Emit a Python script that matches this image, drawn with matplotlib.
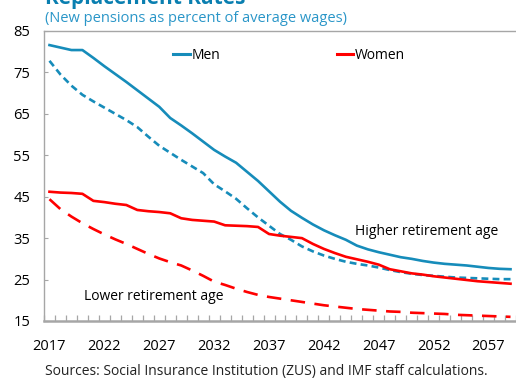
import numpy as np
import matplotlib
matplotlib.use("Agg")
import matplotlib.pyplot as plt
from matplotlib.lines import Line2D
from matplotlib.ticker import FixedLocator

plt.rcParams['font.family'] = ['Open Sans', 'DejaVu Sans']

years = list(range(2017, 2060))

men_higher = [81.6, 81.0, 80.4, 80.4, 78.5, 76.5, 74.6, 72.7, 70.7, 68.7,
              66.7, 64.0, 62.2, 60.3, 58.3, 56.3, 54.7, 53.2, 51.0, 48.8,
              46.3, 43.8, 41.6, 39.9, 38.3, 36.9, 35.7, 34.6, 33.2, 32.3,
              31.6, 31.0, 30.4, 30.0, 29.5, 29.1, 28.8, 28.6, 28.4, 28.1,
              27.8, 27.6, 27.5]
men_lower = [77.8, 74.5, 71.8, 69.6, 68.0, 66.5, 65.0, 63.5, 61.8, 59.5,
             57.3, 55.6, 53.9, 52.3, 50.7, 48.0, 46.3, 44.5, 42.2, 40.0,
             38.0, 36.0, 34.6, 33.0, 31.8, 30.8, 30.0, 29.3, 28.8, 28.4,
             27.9, 27.3, 26.8, 26.4, 26.1, 25.9, 25.7, 25.5, 25.4, 25.3,
             25.2, 25.1, 25.1]
women_higher = [46.2, 46.0, 45.9, 45.7, 44.0, 43.7, 43.3, 43.0, 41.8, 41.5,
                41.3, 41.0, 39.8, 39.4, 39.2, 39.0, 38.1, 38.0, 37.9, 37.7,
                36.0, 35.6, 35.3, 35.0, 33.6, 32.4, 31.4, 30.5, 29.9, 29.3,
                28.6, 27.5, 27.0, 26.5, 26.2, 25.8, 25.5, 25.2, 24.9, 24.6,
                24.4, 24.2, 24.0]
women_lower = [44.4, 42.0, 40.2, 38.6, 37.2, 35.9, 34.7, 33.6, 32.4, 31.2,
               30.1, 29.2, 28.4, 27.2, 25.9, 24.5, 23.7, 22.8, 22.0, 21.3,
               20.8, 20.4, 20.0, 19.6, 19.2, 18.8, 18.5, 18.2, 17.9, 17.7,
               17.5, 17.3, 17.2, 17.0, 16.9, 16.8, 16.7, 16.5, 16.4, 16.3,
               16.2, 16.1, 16.0]

blue = '#168cba'
red = '#ff0000'
grey = '#a6a6a6'

fig = plt.figure(figsize=(5.16, 3.84), dpi=100)
ax = fig.add_axes([44/516, 63/384, 472/516, 290/384])

x = np.arange(len(years))
lw = 1.9
ax.plot(x, men_higher, color=blue, lw=lw)
ax.plot(x, men_lower, color=blue, lw=lw, dashes=(2.6, 1.6))
ax.plot(x, women_higher, color=red, lw=lw)
ax.plot(x, women_lower, color=red, lw=lw, dashes=(5.5, 3.6))

ax.set_xlim(-0.5, len(years) - 0.5)
ax.set_ylim(15, 85)
ax.set_yticks(range(15, 86, 10))

# year labels every five years, small ticks between each year
label_pos = [i for i, y in enumerate(years) if (y - 2017) % 5 == 0]
ax.set_xticks(label_pos)
ax.set_xticklabels([str(years[i]) for i in label_pos])
ax.xaxis.set_minor_locator(FixedLocator(np.arange(-0.5, len(years), 1.0)))
ax.tick_params(axis='x', which='major', length=0, pad=13, labelsize=10.5)
ax.tick_params(axis='x', which='minor', direction='in', length=4, color=grey, width=0.9)
ax.tick_params(axis='y', direction='in', length=3, color=grey, pad=10, labelsize=10.5)

for side in ['left', 'top']:
    ax.spines[side].set_color(grey)
    ax.spines[side].set_linewidth(1.0)
ax.spines['bottom'].set_color(grey)
ax.spines['bottom'].set_linewidth(1.8)
ax.spines['right'].set_visible(False)

handles = [Line2D([], [], color=blue, lw=2.2), Line2D([], [], color=red, lw=2.2)]
ax.legend(handles, ['Men', 'Women'], ncol=2, frameon=False, fontsize=10,
          handlelength=1.2, handletextpad=0.1, columnspacing=8.4,
          loc='upper left', bbox_to_anchor=(0.247, 0.985))

ax.text(34.4, 36.5, 'Higher retirement age', fontsize=10, ha='center', va='center')
ax.text(9.5, 20.8, 'Lower retirement age', fontsize=10, ha='center', va='center')

fig.text(45/516, 1 - 4/384, 'Replacement Rates', fontsize=15, fontweight='bold',
         color='#0a7fb0', ha='left', va='baseline')
fig.text(45/516, 1 - 18/384, '(New pensions as percent of average wages)', fontsize=10.5,
         color='#2a96c8', ha='left', va='center')
fig.text(45/516, 1 - 371/384,
         'Sources: Social Insurance Institution (ZUS) and IMF staff calculations.',
         fontsize=10, color='#222222', ha='left', va='center')

fig.savefig('out.png', dpi=100)
